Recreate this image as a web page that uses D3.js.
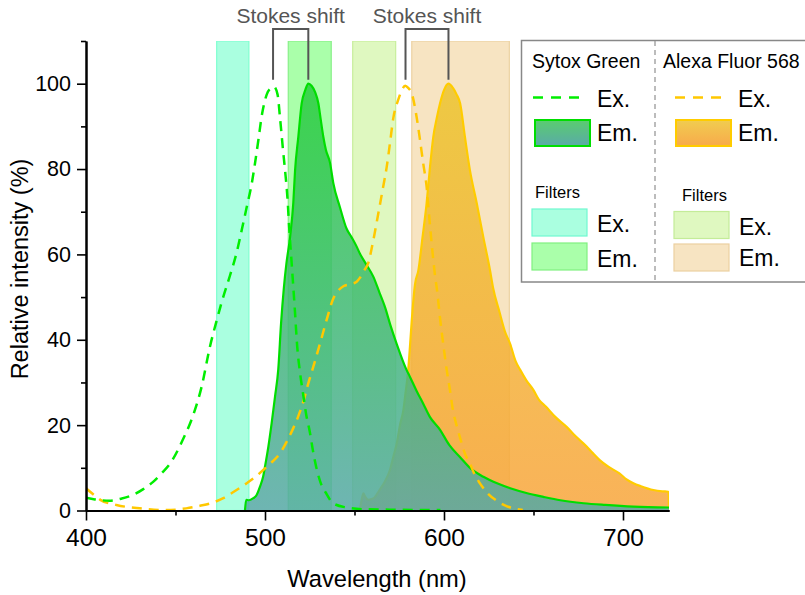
<!DOCTYPE html>
<html>
<head>
<meta charset="utf-8">
<script src="https://cdn.jsdelivr.net/npm/d3@7"></script>
<style>
  body { margin: 0; background: #fff; }
  svg { font-family: "Liberation Sans", Arial, sans-serif; }
</style>
</head>
<body>
<svg id="chart" width="805" height="595"></svg>
<script>
// spectra, [wavelength nm, relative intensity %]
var sytoxEx = [[400,3.0],[405,2.6],[413,2.3],[420,2.8],[426,3.6],[432,5],[437.5,6.7],[442,8.6],[447,11],[454,16.5],[460,22.5],[464.6,29],[469.3,38.5],[473,44.5],[475.8,48.8],[480.4,55],[484.2,60.5],[487,65.7],[489.8,71.1],[492.6,76.6],[494.4,81.3],[496.3,86.8],[498.2,92.5],[501,97.5],[503.5,99],[505,99.3],[507,97.5],[508.4,92],[509.9,85.2],[511.2,79.7],[512.5,73.5],[513.6,65.7],[514.9,57.9],[516.8,46.2],[518,38.4],[519.5,32.5],[521.4,27],[523,22.5],[525,18.5],[527,13.5],[529,9.5],[531,6.6],[534.5,3.8],[538,1.7],[545.6,0.7],[555,0.3],[570,0.2],[598,0.1]];
var sytoxEm = [[488.8,0],[489.5,2.5],[491,2.4],[493.5,2.9],[495,3.4],[497.2,5.6],[499,8],[500,10.3],[501.9,15],[503.7,20.4],[505.6,26.7],[507.4,33],[509,44],[510.5,52],[512,58],[514,64],[515.8,72],[516.8,79.7],[518.6,87.5],[520.5,95.4],[522.5,98.5],[524.2,100],[526,99.5],[528,98],[529.8,95.4],[531,92],[532.6,87.5],[534,84.5],[536.3,81.5],[538.2,76.6],[541.9,71],[545.6,66],[548.4,64],[551,62],[553,60.2],[556.8,57.5],[560.5,54.8],[564,51],[567,47.7],[570,43.5],[573.6,39],[579,33],[581,31.3],[584.7,28],[588.4,25],[592,22],[597.8,18.9],[603,15.3],[609,12.5],[615,9.8],[622,7.9],[630,6.3],[637,5.2],[646,4.1],[655.5,3.2],[665,2.4],[678,1.7],[690,1.3],[705.8,0.9],[725.7,0.7]];
var alexaEx = [[400,5.2],[404,3.8],[408,2.5],[417,1.3],[430,0.5],[445,0.1],[456,0.5],[463.7,1.1],[469,1.6],[476.7,2.9],[483,4.5],[489.8,6.4],[495,8],[499,9.5],[503,11],[508.4,13.4],[512,16],[515.8,19.3],[518.5,22],[521.4,25.5],[524,29.5],[527,33.7],[531,39.5],[535,45.5],[538,49.5],[540,51],[544,52.6],[547.5,53],[551.2,53.6],[553,54.5],[555,56],[557.7,58],[560.5,63.3],[563.3,69.6],[566,75.8],[568,80.5],[569.8,86],[571.7,92],[574.5,96.3],[576.5,98.5],[578.3,99.5],[580,99],[582,97.7],[584.7,92.2],[586.6,86.8],[588.4,81.3],[590.3,75.8],[591.5,70],[593.1,62.6],[595,55],[596,52],[597.8,45],[599.7,38.6],[601.5,33],[603.4,28],[605,23.5],[607,20],[609,17],[612,13],[614.5,11],[617,8.5],[620,6.4],[624,4.2],[629.4,2.3],[634,1.2],[638.7,0.5],[644,0.1]];
var alexaEm = [[553,0],[554,2.5],[555,4],[556,3.2],[557.7,2.5],[560.5,2.8],[564,4.8],[567,6.8],[569.8,9.5],[571.7,12.6],[573.6,15.7],[575.4,20],[577.3,23.5],[578.5,27.5],[580,32.9],[581,38.5],[582,44.6],[583.8,53],[585.7,56.3],[588,64],[590.3,72],[592,79.7],[594,87.5],[596,92],[597.8,95.4],[600,98.5],[602.5,100],[605,99],[607,97.5],[609,95.4],[611.7,87.5],[614.5,79.7],[618.3,72],[622,64],[625.7,56.3],[627.5,52],[631,46.5],[634,42],[637,39],[640,35],[642.5,33],[646,30.5],[650,28.2],[653,26],[657,24.3],[662,22],[668.5,19.6],[674,17.2],[679.7,15],[683,13.5],[687,11.8],[692,10.2],[698,8.7],[702,7.3],[705.8,6.4],[710,5.7],[717,4.8],[722,4.5],[725.4,4.4],[725.7,0]];

// filter bands (nm)
var filterNames = ['sytoxExF', 'sytoxEmF', 'alexaExF', 'alexaEmF'];
var filterStart = [473, 513, 549, 582];
var filterEnd = [491, 537, 573, 636.5];
var filterFill = ['#aaffe0', '#aaffaa', '#dff8c0', '#f7e4c2'];
var filterEdge = ['#80ffd0', '#88f088', '#c8ee9c', '#ecd2a2'];

// stokes shift brackets: excitation peak -> emission peak
var stokesEx = [504.5, 578.5];
var stokesEm = [524.2, 602.5];

var xMajor = [400, 500, 600, 700];
var xMinor = [450, 550, 650];
var yMajor = [0, 20, 40, 60, 80, 100];
var yMinor = [10, 30, 50, 70, 90, 110];

var svg = d3.select('#chart');
var x = d3.scaleLinear().domain([400, 725.7]).range([86, 669]);
var y = d3.scaleLinear().domain([0, 110]).range([510.5, 41]);

var defs = svg.append('defs');
function grad(id, c0, c1, user) {
    var g = defs.append('linearGradient').attr('id', id)
        .attr('x1', 0).attr('x2', 0);
    if (user) {
        g.attr('gradientUnits', 'userSpaceOnUse').attr('y1', y(100)).attr('y2', y(0));
    } else {
        g.attr('y1', 0).attr('y2', 1);
    }
    g.append('stop').attr('offset', '0%').attr('stop-color', c0);
    g.append('stop').attr('offset', '100%').attr('stop-color', c1);
}
grad('gGreen', 'rgb(40,205,60)', 'rgb(85,168,165)', true);
grad('gOrange', 'rgb(236,196,45)', 'rgb(248,165,60)', true);
grad('gGreenL', 'rgb(90,205,110)', 'rgb(90,170,168)', false);
grad('gOrangeL', 'rgb(240,205,80)', 'rgb(248,170,75)', false);

defs.append('clipPath').attr('id', 'plotClip')
    .append('rect').attr('x', x(400)).attr('y', y(110))
    .attr('width', x(725.7) - x(400)).attr('height', y(0) - y(110));

var plot = svg.append('g').attr('clip-path', 'url(#plotClip)');

// filter bands
plot.selectAll('.filter')
    .data(filterNames)
    .enter().append('rect')
    .attr('class', 'filter')
    .attr('x', function(d, i) { return x(filterStart[i]); })
    .attr('y', y(110))
    .attr('width', function(d, i) { return x(filterEnd[i]) - x(filterStart[i]); })
    .attr('height', y(0) - y(110))
    .style('fill', function(d, i) { return filterFill[i]; })
    .style('stroke', function(d, i) { return filterEdge[i]; })
    .style('stroke-width', 1.2);

var area = d3.area()
    .x(function(d) { return x(d[0]); })
    .y0(y(0))
    .y1(function(d) { return y(d[1]); })
    .curve(d3.curveMonotoneX);
var line = d3.line()
    .x(function(d) { return x(d[0]); })
    .y(function(d) { return y(d[1]); })
    .curve(d3.curveMonotoneX);

// alexa emission
plot.append('path').datum(alexaEm)
    .attr('d', area)
    .style('fill', 'url(#gOrange)')
    .style('fill-opacity', 0.85);
plot.append('path').datum(alexaEm)
    .attr('d', line)
    .style('fill', 'none')
    .style('stroke', '#ffcc00')
    .style('stroke-width', 2.2);

// sytox emission
plot.append('path').datum(sytoxEm)
    .attr('d', area)
    .style('fill', 'url(#gGreen)')
    .style('fill-opacity', 0.85);
plot.append('path').datum(sytoxEm)
    .attr('d', line)
    .style('fill', 'none')
    .style('stroke', '#00dd00')
    .style('stroke-width', 2.2);

// excitation (dashed)
plot.append('path').datum(alexaEx)
    .attr('d', line)
    .style('fill', 'none')
    .style('stroke', '#ffc800')
    .style('stroke-width', 2.5)
    .style('stroke-dasharray', '10,7');
plot.append('path').datum(sytoxEx)
    .attr('d', line)
    .style('fill', 'none')
    .style('stroke', '#00ee00')
    .style('stroke-width', 2.5)
    .style('stroke-dasharray', '10,7');

// axes
var xAxis = svg.append('g').attr('transform', 'translate(0,' + y(0) + ')')
    .call(d3.axisBottom(x).tickValues(xMajor).tickSize(10).tickPadding(8).tickSizeOuter(0));
svg.append('g').attr('transform', 'translate(0,' + y(0) + ')')
    .call(d3.axisBottom(x).tickValues(xMinor).tickSize(5).tickFormat('').tickSizeOuter(0));
var yAxis = svg.append('g').attr('transform', 'translate(' + x(400) + ',0)')
    .call(d3.axisLeft(y).tickValues(yMajor).tickSize(9).tickPadding(6).tickSizeOuter(0));
svg.append('g').attr('transform', 'translate(' + x(400) + ',0)')
    .call(d3.axisLeft(y).tickValues(yMinor).tickSize(5).tickFormat('').tickSizeOuter(0));

svg.selectAll('.domain').style('stroke', '#000').style('stroke-width', 2);
svg.selectAll('.tick line').style('stroke', '#000').style('stroke-width', 1.6);
xAxis.selectAll('text').style('font-size', '24.5px').style('fill', '#000')
    .style('font-family', '"Liberation Sans", Arial, sans-serif');
yAxis.selectAll('text').style('font-size', '21.5px').style('fill', '#000')
    .style('font-family', '"Liberation Sans", Arial, sans-serif');

svg.append('text')
    .attr('x', 377).attr('y', 587)
    .attr('text-anchor', 'middle')
    .style('font-size', '23.7px')
    .text('Wavelength (nm)');
svg.append('text')
    .attr('transform', 'translate(28,269) rotate(-90)')
    .attr('text-anchor', 'middle')
    .style('font-size', '23.5px')
    .text('Relative intensity (%)');

// stokes shift brackets
var bracket = svg.append('g');
stokesEx.forEach(function(ex, i) {
    var x1 = x(ex), x2 = x(stokesEm[i]);
    var top = y(110) - 12, bot = y(100) - 4;
    bracket.append('path')
        .attr('d', 'M' + x1 + ',' + bot + 'V' + top + 'H' + x2 + 'V' + bot)
        .style('fill', 'none')
        .style('stroke', '#555')
        .style('stroke-width', 2);
    bracket.append('text')
        .attr('x', (x1 + x2) / 2)
        .attr('y', 23)
        .attr('text-anchor', 'middle')
        .style('font-size', '21px')
        .style('fill', '#555')
        .text('Stokes shift');
});

// legend
var leg = svg.append('g');
leg.append('rect')
    .attr('x', 521.5).attr('y', 40.5).attr('width', 290).attr('height', 241.5)
    .style('fill', '#fff').style('stroke', '#888').style('stroke-width', 1.5);
leg.append('line')
    .attr('x1', 655).attr('x2', 655).attr('y1', 41).attr('y2', 281)
    .style('stroke', '#999').style('stroke-width', 1.3).style('stroke-dasharray', '5,4');

var cols = [
    {title: 'Sytox Green', tx: 532, lx: 533, ex: '#00ee00', em: '#00dd00', emFill: 'url(#gGreenL)',
     sw: 535, tw: 597, fx: 535, fy: 198, f1: 209, f2: 243, ft1: 232, ft2: 267, fsw: 532, fTx: 597,
     fFill: [filterFill[0], filterFill[1]], fEdge: ['#70f8d0', '#80f080']},
    {title: 'Alexa Fluor 568', tx: 663, lx: 675, ex: '#ffc800', em: '#ffcc00', emFill: 'url(#gOrangeL)',
     sw: 676, tw: 738, fx: 682, fy: 201, f1: 211.5, f2: 244, ft1: 235, ft2: 266, fsw: 674, fTx: 739,
     fFill: [filterFill[2], filterFill[3]], fEdge: ['#c4ec98', '#ecd0a0']}
];
cols.forEach(function(c) {
    leg.append('text').attr('x', c.tx).attr('y', 68).style('font-size', '19.5px').text(c.title);
    leg.append('line').attr('x1', c.lx).attr('x2', c.lx + 54).attr('y1', 97.5).attr('y2', 97.5)
        .style('stroke', c.ex).style('stroke-width', 2.4).style('stroke-dasharray', '10,8');
    leg.append('text').attr('x', c.tw).attr('y', 106.5).style('font-size', '23px').text('Ex.');
    leg.append('rect').attr('x', c.sw).attr('y', 120).attr('width', 55).attr('height', 26)
        .style('fill', c.emFill).style('stroke', c.em).style('stroke-width', 2);
    leg.append('text').attr('x', c.tw).attr('y', 141).style('font-size', '23px').text('Em.');
    leg.append('text').attr('x', c.fx).attr('y', c.fy).style('font-size', '16.5px').text('Filters');
    [c.f1, c.f2].forEach(function(fy, j) {
        leg.append('rect').attr('x', c.fsw).attr('y', fy).attr('width', 55).attr('height', 27)
            .style('fill', c.fFill[j]).style('stroke', c.fEdge[j]).style('stroke-width', 1.2);
    });
    leg.append('text').attr('x', c.fTx).attr('y', c.ft1).style('font-size', '23px').text('Ex.');
    leg.append('text').attr('x', c.fTx).attr('y', c.ft2).style('font-size', '23px').text('Em.');
});
</script>
</body>
</html>
